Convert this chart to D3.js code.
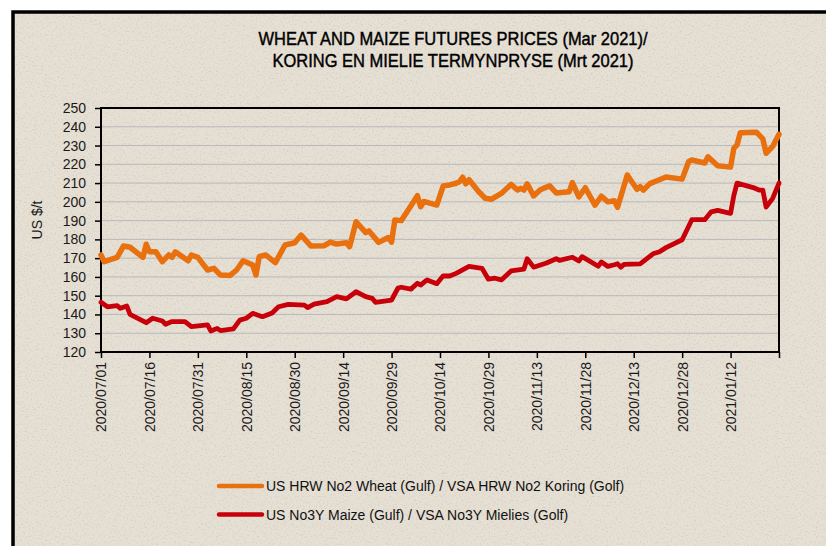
<!DOCTYPE html>
<meta charset="utf-8">
<style>
body { margin: 0; background: #fff; }
svg { display: block; }
.tick text { font-family: "Liberation Sans", Arial, sans-serif; font-size: 14px; fill: #1a1a1a; }
.grid line { stroke: #b9b9bb; stroke-width: 1; }
</style>
<body>
<script src="https://d3js.org/d3.v7.min.js"></script>
<script>

// chart data (US $/t)
var wheatDates = ["2020-07-01","2020-07-02","2020-07-06","2020-07-08","2020-07-10","2020-07-14","2020-07-15","2020-07-16","2020-07-18","2020-07-20",
  "2020-07-22","2020-07-23","2020-07-24","2020-07-28","2020-07-29","2020-07-31","2020-08-03","2020-08-05","2020-08-07","2020-08-10",
  "2020-08-12","2020-08-14","2020-08-17","2020-08-18","2020-08-19","2020-08-21","2020-08-24","2020-08-27","2020-08-30","2020-09-01",
  "2020-09-04","2020-09-08","2020-09-10","2020-09-12","2020-09-15","2020-09-16","2020-09-18","2020-09-21","2020-09-22","2020-09-25",
  "2020-09-28","2020-09-29","2020-09-30","2020-10-02","2020-10-04","2020-10-07","2020-10-08","2020-10-09","2020-10-13","2020-10-15",
  "2020-10-17","2020-10-19","2020-10-20","2020-10-21","2020-10-22","2020-10-23","2020-10-26","2020-10-28","2020-10-30","2020-11-02",
  "2020-11-05","2020-11-07","2020-11-08","2020-11-09","2020-11-10","2020-11-12","2020-11-14","2020-11-15","2020-11-17","2020-11-19",
  "2020-11-23","2020-11-24","2020-11-26","2020-11-28","2020-12-01","2020-12-03","2020-12-05","2020-12-07","2020-12-08","2020-12-11",
  "2020-12-14","2020-12-15","2020-12-16","2020-12-18","2020-12-20","2020-12-23","2020-12-28","2020-12-30","2020-12-31","2021-01-04",
  "2021-01-05","2021-01-08","2021-01-12","2021-01-13","2021-01-14","2021-01-15","2021-01-20","2021-01-22","2021-01-23","2021-01-25",
  "2021-01-27"];
var wheatValues = [171.7,168.1,170.4,176.5,175.8,170.4,177.4,173.4,173.4,168.1,
  171.7,170.4,173.4,168.6,171.7,170.4,163.7,164.6,161.0,160.8,
  163.7,168.6,166.3,161.0,170.8,171.7,167.6,177.0,178.2,182.3,
  176.5,176.6,178.6,177.5,178.2,176.1,189.4,183.6,184.5,178.4,
  181.0,178.5,190.3,190.0,195.2,203.3,197.4,200.2,198.3,208.5,
  209.0,209.9,210.7,213.1,209.6,211.8,205.4,201.9,201.4,204.5,
  209.3,206.3,207.2,206.3,209.6,203.2,206.3,207.2,208.5,204.7,
  205.4,210.2,202.6,207.5,198.3,203.0,200.0,200.6,197.1,214.3,
  206.7,208.1,206.3,209.7,211.1,213.2,212.1,221.4,222.3,220.7,
  224.0,219.2,218.5,228.5,230.3,236.8,237.1,233.5,225.9,229.4,
  236.0];

var maizeDates = ["2020-07-01","2020-07-03","2020-07-06","2020-07-07","2020-07-09","2020-07-10","2020-07-15","2020-07-17","2020-07-20","2020-07-21",
  "2020-07-23","2020-07-27","2020-07-29","2020-08-03","2020-08-04","2020-08-06","2020-08-07","2020-08-11","2020-08-13","2020-08-15",
  "2020-08-17","2020-08-20","2020-08-23","2020-08-25","2020-08-28","2020-09-02","2020-09-03","2020-09-05","2020-09-09","2020-09-12",
  "2020-09-15","2020-09-18","2020-09-21","2020-09-23","2020-09-24","2020-09-29","2020-10-01","2020-10-02","2020-10-05","2020-10-07",
  "2020-10-08","2020-10-10","2020-10-13","2020-10-15","2020-10-17","2020-10-19","2020-10-23","2020-10-27","2020-10-29","2020-10-31",
  "2020-11-02","2020-11-05","2020-11-09","2020-11-10","2020-11-12","2020-11-16","2020-11-19","2020-11-20","2020-11-24","2020-11-26",
  "2020-11-27","2020-12-02","2020-12-03","2020-12-05","2020-12-07","2020-12-08","2020-12-09","2020-12-10","2020-12-15","2020-12-19",
  "2020-12-21","2020-12-23","2020-12-28","2020-12-31","2021-01-04","2021-01-06","2021-01-08","2021-01-12","2021-01-13","2021-01-14",
  "2021-01-19","2021-01-21","2021-01-22","2021-01-23","2021-01-25","2021-01-27"];
var maizeValues = [146.5,144.1,144.7,143.3,144.5,140.1,135.6,138.0,136.5,134.8,
  136.2,136.2,133.5,134.4,131.2,132.6,131.4,132.3,137.0,138.0,
  140.6,138.8,140.8,144.1,145.4,145.0,143.7,145.5,146.8,149.5,
  148.3,152.1,149.5,148.6,146.5,147.7,154.1,154.5,153.5,156.6,
  155.7,158.4,156.4,160.6,160.5,161.9,165.6,164.6,158.8,159.3,
  158.4,163.2,164.2,169.7,165.2,167.4,169.7,168.8,170.5,168.5,
  170.8,165.7,168.0,165.6,166.5,167.0,165.2,166.7,167.0,172.3,
  173.4,175.6,179.8,190.5,190.5,194.7,195.5,193.9,203.3,210.0,
  207.6,206.2,206.2,197.2,201.7,210.0];

var tickLabels = ["2020/07/01","2020/07/16","2020/07/31","2020/08/15","2020/08/30","2020/09/14","2020/09/29",
  "2020/10/14","2020/10/29","2020/11/13","2020/11/28","2020/12/13","2020/12/28","2021/01/12"];
var axisEnd = "2021/01/27";
var yTicks = [120,130,140,150,160,170,180,190,200,210,220,230,240,250];

var seriesNames = ["US HRW No2 Wheat (Gulf) / VSA HRW No2 Koring (Golf)",
  "US No3Y Maize (Gulf) / VSA No3Y Mielies (Golf)"];
var seriesColors = ["#e8700f", "#c8000a"];
var titleLines = ["WHEAT AND MAIZE FUTURES PRICES (Mar 2021)/", "KORING EN MIELIE TERMYNPRYSE (Mrt 2021)"];

var W = 826, H = 546;
var plot = {left: 101, right: 779, top: 108, bottom: 352};

var parseIso = d3.utcParse("%Y-%m-%d"),
    parseTick = d3.utcParse("%Y/%m/%d"),
    fmtTick = d3.utcFormat("%Y/%m/%d");

var svg = d3.select("body").append("svg")
    .attr("width", W)
    .attr("height", H);

// paper texture
var defs = svg.append("defs");
var f = defs.append("filter").attr("id", "speck")
    .attr("x", 0).attr("y", 0).attr("width", "100%").attr("height", "100%");
f.append("feTurbulence").attr("type", "fractalNoise").attr("baseFrequency", 0.55)
    .attr("numOctaves", 2).attr("seed", 7).attr("result", "n");
f.append("feColorMatrix").attr("type", "matrix")
    .attr("values", "0 0 0 0 0.35  0 0 0 0 0.32  0 0 0 0 0.28  -2.2 0 0 0 1.05");

svg.append("rect")
    .attr("x", 13).attr("y", 12)
    .attr("width", W + 10).attr("height", H + 10)
    .attr("fill", "#e6dfd4")
    .attr("stroke", "#000").attr("stroke-width", 3.5);
svg.append("rect")
    .attr("x", 15).attr("y", 14)
    .attr("width", W).attr("height", H)
    .attr("filter", "url(#speck)")
    .attr("opacity", 0.35);

var x = d3.scaleUtc()
    .domain([parseTick(tickLabels[0]), parseTick(axisEnd)])
    .range([plot.left, plot.right]);
var y = d3.scaleLinear()
    .domain([d3.min(yTicks), d3.max(yTicks)])
    .range([plot.bottom, plot.top]);

// grid lines
svg.append("g").attr("class", "grid")
  .selectAll("line")
  .data(yTicks.slice(1, -1))
  .enter().append("line")
    .attr("x1", plot.left).attr("x2", plot.right)
    .attr("y1", function(d) { return y(d); })
    .attr("y2", function(d) { return y(d); });

// y axis
var yAxis = svg.append("g")
    .attr("transform", "translate(" + plot.left + ",0)")
    .call(d3.axisLeft(y).tickValues(yTicks).tickSize(6).tickPadding(9));
yAxis.select(".domain").remove();
yAxis.selectAll(".tick line").attr("stroke", "#000").attr("stroke-width", 1.5);

// x axis
var xTickDates = tickLabels.concat([axisEnd]).map(parseTick);
var xAxis = svg.append("g")
    .attr("transform", "translate(0," + plot.bottom + ")")
    .call(d3.axisBottom(x).tickValues(xTickDates).tickSize(6)
      .tickFormat(function(d) { var s = fmtTick(d); return tickLabels.indexOf(s) < 0 ? "" : s; }));
xAxis.select(".domain").remove();
xAxis.selectAll(".tick line").attr("stroke", "#000").attr("stroke-width", 1.5);
xAxis.selectAll(".tick text")
    .attr("transform", "rotate(-90)")
    .attr("x", -10).attr("y", 0).attr("dy", "0.35em")
    .style("text-anchor", "end");

// plot frame
svg.append("rect")
    .attr("x", plot.left).attr("y", plot.top)
    .attr("width", plot.right - plot.left).attr("height", plot.bottom - plot.top)
    .attr("fill", "none").attr("stroke", "#000").attr("stroke-width", 2);

// lines
var line = d3.line()
    .x(function(d) { return x(d[0]); })
    .y(function(d) { return y(d[1]); });

var series = [
  d3.zip(wheatDates.map(parseIso), wheatValues),
  d3.zip(maizeDates.map(parseIso), maizeValues)
];

svg.append("g").selectAll("path")
  .data(series)
  .enter().append("path")
    .attr("d", line)
    .attr("fill", "none")
    .attr("stroke", function(d, i) { return seriesColors[i]; })
    .attr("stroke-width", function(d, i) { return i == 0 ? 5.5 : 4.8; })
    .attr("stroke-linejoin", "round")
    .attr("stroke-linecap", "round");

// titles
svg.append("g").selectAll("text")
  .data(titleLines)
  .enter().append("text")
    .attr("x", 453)
    .attr("y", function(d, i) { return 45 + i * 21.7; })
    .attr("text-anchor", "middle")
    .attr("textLength", function(d, i) { return i == 0 ? 389 : 361; })
    .attr("lengthAdjust", "spacingAndGlyphs")
    .attr("font-family", "'Liberation Sans Narrow', 'Liberation Sans', Arial, sans-serif")
    .attr("font-size", 19)
    .attr("fill", "#000")
    .attr("stroke", "#000")
    .attr("stroke-width", 0.45)
    .text(function(d) { return d; });

// y label
svg.append("text")
    .attr("transform", "translate(42,220) rotate(-90)")
    .attr("text-anchor", "middle")
    .attr("font-family", "'Liberation Sans', Arial, sans-serif")
    .attr("font-size", 14)
    .attr("fill", "#1a1a1a")
    .text("US $/t");

// legend
var leg = svg.append("g").selectAll("g")
  .data(seriesNames)
  .enter().append("g")
    .attr("transform", function(d, i) { return "translate(218," + (486 + i * 28.5) + ")"; });
leg.append("line")
    .attr("x1", 1).attr("x2", 44)
    .attr("stroke", function(d, i) { return seriesColors[i]; })
    .attr("stroke-width", 4.5)
    .attr("stroke-linecap", "round");
leg.append("text")
    .attr("x", 48).attr("y", 5)
    .attr("font-family", "'Liberation Sans', Arial, sans-serif")
    .attr("font-size", 14)
    .attr("fill", "#111")
    .text(function(d) { return d; });

</script>
</body>
